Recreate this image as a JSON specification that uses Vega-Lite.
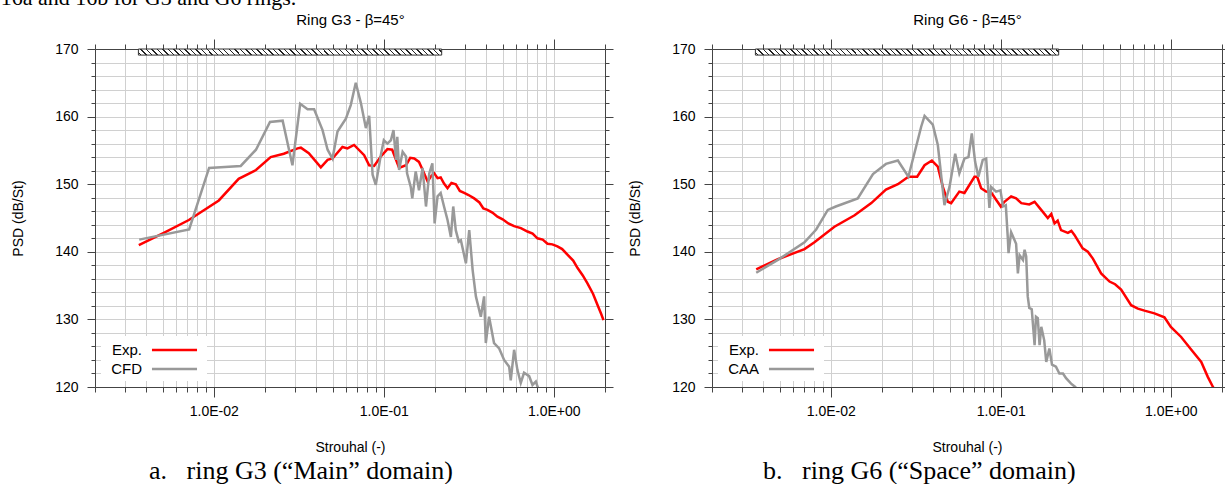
{
"$schema": "https://vega.github.io/schema/vega-lite/v6.json",
"autosize": {"type": "pad"},
"padding": {"left": 0, "top": -14, "right": 0, "bottom": 0},
"background": "white",
"title": {"text": "16a and 16b for G3 and G6 rings.", "anchor": "start", "font": "Liberation Serif", "fontSize": 22, "fontWeight": "normal", "color": "#000", "offset": 3, "dx": -11},
"spacing": 107,
"bounds": "flush",
"resolve": {"scale": {"color": "independent"}, "legend": {"color": "independent"}},
"hconcat": [
{
"width": 510, "height": 338,
"title": {"text": "a.\u00a0\u00a0\u00a0ring G3 (\u201cMain\u201d domain)", "orient": "bottom", "anchor": "start", "frame": "group", "dx": 54, "offset": 4, "font": "Liberation Serif", "fontSize": 26, "fontWeight": "normal", "color": "#000"},
"data": {"values": [
{"s":"Exp.","st":0.00362,"psd":141.0},{"s":"Exp.","st":0.00508,"psd":142.8},{"s":"Exp.","st":0.00713,"psd":144.7},{"s":"Exp.","st":0.0107,"psd":147.6},{"s":"Exp.","st":0.0140,"psd":150.8},{"s":"Exp.","st":0.0177,"psd":152.1},{"s":"Exp.","st":0.0216,"psd":154.0},{"s":"Exp.","st":0.0258,"psd":154.5},{"s":"Exp.","st":0.0311,"psd":155.3},{"s":"Exp.","st":0.0325,"psd":155.4},{"s":"Exp.","st":0.0362,"psd":154.6},{"s":"Exp.","st":0.0426,"psd":152.5},{"s":"Exp.","st":0.0467,"psd":153.6},{"s":"Exp.","st":0.0499,"psd":153.8},{"s":"Exp.","st":0.0571,"psd":155.5},{"s":"Exp.","st":0.0611,"psd":155.3},{"s":"Exp.","st":0.0668,"psd":155.8},{"s":"Exp.","st":0.0766,"psd":154.3},{"s":"Exp.","st":0.0820,"psd":152.8},{"s":"Exp.","st":0.0877,"psd":152.7},{"s":"Exp.","st":0.0960,"psd":154.1},{"s":"Exp.","st":0.105,"psd":155.2},{"s":"Exp.","st":0.112,"psd":155.1},{"s":"Exp.","st":0.123,"psd":152.4},{"s":"Exp.","st":0.135,"psd":152.8},{"s":"Exp.","st":0.143,"psd":153.9},{"s":"Exp.","st":0.151,"psd":153.8},{"s":"Exp.","st":0.161,"psd":153.3},{"s":"Exp.","st":0.170,"psd":152.0},{"s":"Exp.","st":0.181,"psd":150.4},{"s":"Exp.","st":0.190,"psd":151.2},{"s":"Exp.","st":0.198,"psd":151.6},{"s":"Exp.","st":0.207,"psd":150.9},{"s":"Exp.","st":0.216,"psd":151.0},{"s":"Exp.","st":0.226,"psd":150.1},{"s":"Exp.","st":0.237,"psd":149.4},{"s":"Exp.","st":0.250,"psd":150.2},{"s":"Exp.","st":0.265,"psd":150.0},{"s":"Exp.","st":0.280,"psd":149.0},{"s":"Exp.","st":0.297,"psd":148.7},{"s":"Exp.","st":0.315,"psd":148.4},{"s":"Exp.","st":0.340,"psd":147.9},{"s":"Exp.","st":0.365,"psd":147.3},{"s":"Exp.","st":0.385,"psd":146.4},{"s":"Exp.","st":0.407,"psd":146.2},{"s":"Exp.","st":0.435,"psd":145.8},{"s":"Exp.","st":0.466,"psd":145.2},{"s":"Exp.","st":0.50,"psd":144.8},{"s":"Exp.","st":0.54,"psd":144.2},{"s":"Exp.","st":0.584,"psd":143.8},{"s":"Exp.","st":0.64,"psd":143.5},{"s":"Exp.","st":0.700,"psd":143.0},{"s":"Exp.","st":0.75,"psd":142.7},{"s":"Exp.","st":0.801,"psd":142.0},{"s":"Exp.","st":0.86,"psd":141.8},{"s":"Exp.","st":0.918,"psd":141.2},{"s":"Exp.","st":0.98,"psd":141.1},{"s":"Exp.","st":1.05,"psd":140.8},{"s":"Exp.","st":1.12,"psd":140.4},{"s":"Exp.","st":1.21,"psd":139.5},{"s":"Exp.","st":1.30,"psd":138.7},{"s":"Exp.","st":1.38,"psd":137.6},{"s":"Exp.","st":1.48,"psd":136.5},{"s":"Exp.","st":1.58,"psd":135.3},{"s":"Exp.","st":1.70,"psd":133.8},{"s":"Exp.","st":1.81,"psd":132.1},{"s":"Exp.","st":1.90,"psd":130.8},{"s":"Exp.","st":1.96,"psd":129.9},
{"s":"CFD","st":0.00364,"psd":141.8},{"s":"CFD","st":0.00716,"psd":143.3},{"s":"CFD","st":0.00938,"psd":152.4},{"s":"CFD","st":0.0110,"psd":152.5},{"s":"CFD","st":0.0144,"psd":152.7},{"s":"CFD","st":0.0177,"psd":155.1},{"s":"CFD","st":0.0214,"psd":159.2},{"s":"CFD","st":0.0254,"psd":159.4},{"s":"CFD","st":0.0290,"psd":152.8},{"s":"CFD","st":0.0322,"psd":161.9},{"s":"CFD","st":0.0356,"psd":161.1},{"s":"CFD","st":0.0389,"psd":161.1},{"s":"CFD","st":0.0436,"psd":158.0},{"s":"CFD","st":0.0467,"psd":155.1},{"s":"CFD","st":0.0499,"psd":153.8},{"s":"CFD","st":0.0534,"psd":157.8},{"s":"CFD","st":0.0598,"psd":159.7},{"s":"CFD","st":0.0639,"psd":161.7},{"s":"CFD","st":0.0684,"psd":165.0},{"s":"CFD","st":0.0733,"psd":162.0},{"s":"CFD","st":0.0784,"psd":158.3},{"s":"CFD","st":0.0820,"psd":160.1},{"s":"CFD","st":0.0859,"psd":151.4},{"s":"CFD","st":0.0897,"psd":149.9},{"s":"CFD","st":0.0960,"psd":154.3},{"s":"CFD","st":0.100,"psd":156.5},{"s":"CFD","st":0.105,"psd":156.0},{"s":"CFD","st":0.110,"psd":156.5},{"s":"CFD","st":0.114,"psd":158.0},{"s":"CFD","st":0.118,"psd":153.6},{"s":"CFD","st":0.120,"psd":157.0},{"s":"CFD","st":0.123,"psd":152.1},{"s":"CFD","st":0.129,"psd":154.8},{"s":"CFD","st":0.135,"psd":154.1},{"s":"CFD","st":0.137,"psd":151.6},{"s":"CFD","st":0.144,"psd":149.6},{"s":"CFD","st":0.147,"psd":147.9},{"s":"CFD","st":0.154,"psd":151.9},{"s":"CFD","st":0.161,"psd":149.1},{"s":"CFD","st":0.169,"psd":152.4},{"s":"CFD","st":0.177,"psd":146.7},{"s":"CFD","st":0.185,"psd":151.6},{"s":"CFD","st":0.193,"psd":153.1},{"s":"CFD","st":0.199,"psd":144.2},{"s":"CFD","st":0.207,"psd":148.2},{"s":"CFD","st":0.216,"psd":148.7},{"s":"CFD","st":0.226,"psd":146.7},{"s":"CFD","st":0.237,"psd":144.7},{"s":"CFD","st":0.248,"psd":142.2},{"s":"CFD","st":0.256,"psd":146.7},{"s":"CFD","st":0.265,"psd":143.2},{"s":"CFD","st":0.276,"psd":141.5},{"s":"CFD","st":0.284,"psd":141.7},{"s":"CFD","st":0.304,"psd":138.3},{"s":"CFD","st":0.318,"psd":143.2},{"s":"CFD","st":0.333,"psd":137.3},{"s":"CFD","st":0.348,"psd":133.4},{"s":"CFD","st":0.372,"psd":130.4},{"s":"CFD","st":0.389,"psd":133.4},{"s":"CFD","st":0.398,"psd":126.5},{"s":"CFD","st":0.416,"psd":130.4},{"s":"CFD","st":0.445,"psd":126.5},{"s":"CFD","st":0.477,"psd":125.7},{"s":"CFD","st":0.510,"psd":124.0},{"s":"CFD","st":0.546,"psd":123.0},{"s":"CFD","st":0.558,"psd":121.0},{"s":"CFD","st":0.584,"psd":125.5},{"s":"CFD","st":0.611,"psd":122.5},{"s":"CFD","st":0.639,"psd":120.6},{"s":"CFD","st":0.668,"psd":122.1},{"s":"CFD","st":0.716,"psd":121.6},{"s":"CFD","st":0.749,"psd":120.3},{"s":"CFD","st":0.784,"psd":120.8},{"s":"CFD","st":0.816,"psd":119.5},{"s":"CFD","st":0.861,"psd":118.5}
]},
"layer": [
{"transform": [{"filter": "datum.s == 'Exp.'"}],
 "mark": {"type": "line", "strokeWidth": 2.5, "clip": true},
 "encoding": {
  "x": {"field": "st", "type": "quantitative", "scale": {"type": "log", "domain": [0.002, 2]},
   "axis": {"orient": "bottom", "values": [0.002,0.003,0.004,0.005,0.006,0.007,0.008,0.009,0.01,0.02,0.03,0.04,0.05,0.06,0.07,0.08,0.09,0.1,0.2,0.3,0.4,0.5,0.6,0.7,0.8,0.9,1,2],
    "labelExpr": "datum.value == 0.01 ? '1.0E-02' : datum.value == 0.1 ? '1.0E-01' : datum.value == 1 ? '1.0E+00' : ''",
    "labelOverlap": false, "labelFlush": false, "grid": true, "title": "Strouhal (-)", "labelPadding": 7, "titlePadding": 22,
    "tickSize": {"condition": {"test": "datum.value == 0.01 || datum.value == 0.1 || datum.value == 1", "value": 10}, "value": 5}}},
  "y": {"field": "psd", "type": "quantitative", "scale": {"domain": [120, 170], "nice": false, "zero": false},
   "axis": {"orient": "left", "values": [120,122,124,126,128,130,132,134,136,138,140,142,144,146,148,150,152,154,156,158,160,162,164,166,168,170],
    "labelExpr": "datum.value % 10 == 0 ? datum.label : ''", "labelOverlap": false, "labelFlush": false, "grid": true, "title": "PSD (dB/St)", "labelPadding": 9, "titlePadding": 29,
    "tickSize": {"condition": {"test": "datum.value % 10 == 0", "value": 8}, "value": 4}}},
  "color": {"field": "s", "type": "nominal", "scale": {"domain": ["Exp.", "CFD"], "range": ["#ff0000", "#999999"]},
   "legend": {"title": null, "encode": {"symbols": {"update": {"x": {"value": 69.5}, "fill": {"value": "transparent"}, "opacity": {"value": 1}, "strokeOpacity": {"value": 1}, "stroke": {"signal": "datum.value === 'Exp.' ? '#ff0000' : '#999999'"}}}, "labels": {"update": {"x": {"value": 37}, "align": {"value": "right"}}}}}}
 }},
{"transform": [{"filter": "datum.s == 'CFD'"}],
 "mark": {"type": "line", "strokeWidth": 2.5, "clip": true},
 "encoding": {
  "x": {"field": "st", "type": "quantitative", "scale": {"type": "log", "domain": [0.002, 2]}, "axis": null},
  "y": {"field": "psd", "type": "quantitative", "scale": {"domain": [120, 170], "nice": false, "zero": false}, "axis": null},
  "color": {"field": "s", "type": "nominal", "scale": {"domain": ["Exp.", "CFD"], "range": ["#ff0000", "#999999"]},
   "legend": {"title": null, "encode": {"symbols": {"update": {"x": {"value": 69.5}, "fill": {"value": "transparent"}, "opacity": {"value": 1}, "strokeOpacity": {"value": 1}, "stroke": {"signal": "datum.value === 'Exp.' ? '#ff0000' : '#999999'"}}}, "labels": {"update": {"x": {"value": 37}, "align": {"value": "right"}}}}}}
 }},
{"data": {"values": [{"a": 0.0036, "b": 0.219, "t": 170, "u": 169.1}]},
 "mark": {"type": "rect", "stroke": "#333333", "strokeWidth": 1, "fill": {"gradient": "linear", "x1": 0, "y1": 1, "x2": 1.0194, "y2": 0.9798, "stops": [
{"offset":0,"color":"#fff"},
{"offset":0.0060,"color":"#fff"},{"offset":0.0060,"color":"#222"},{"offset":0.0105,"color":"#222"},{"offset":0.0105,"color":"#fff"},
{"offset":0.0239,"color":"#fff"},{"offset":0.0239,"color":"#222"},{"offset":0.0284,"color":"#222"},{"offset":0.0284,"color":"#fff"},
{"offset":0.0417,"color":"#fff"},{"offset":0.0417,"color":"#222"},{"offset":0.0462,"color":"#222"},{"offset":0.0462,"color":"#fff"},
{"offset":0.0596,"color":"#fff"},{"offset":0.0596,"color":"#222"},{"offset":0.0641,"color":"#222"},{"offset":0.0641,"color":"#fff"},
{"offset":0.0774,"color":"#fff"},{"offset":0.0774,"color":"#222"},{"offset":0.0819,"color":"#222"},{"offset":0.0819,"color":"#fff"},
{"offset":0.0953,"color":"#fff"},{"offset":0.0953,"color":"#222"},{"offset":0.0998,"color":"#222"},{"offset":0.0998,"color":"#fff"},
{"offset":0.1131,"color":"#fff"},{"offset":0.1131,"color":"#222"},{"offset":0.1176,"color":"#222"},{"offset":0.1176,"color":"#fff"},
{"offset":0.1310,"color":"#fff"},{"offset":0.1310,"color":"#222"},{"offset":0.1355,"color":"#222"},{"offset":0.1355,"color":"#fff"},
{"offset":0.1489,"color":"#fff"},{"offset":0.1489,"color":"#222"},{"offset":0.1534,"color":"#222"},{"offset":0.1534,"color":"#fff"},
{"offset":0.1667,"color":"#fff"},{"offset":0.1667,"color":"#222"},{"offset":0.1712,"color":"#222"},{"offset":0.1712,"color":"#fff"},
{"offset":0.1846,"color":"#fff"},{"offset":0.1846,"color":"#222"},{"offset":0.1891,"color":"#222"},{"offset":0.1891,"color":"#fff"},
{"offset":0.2024,"color":"#fff"},{"offset":0.2024,"color":"#222"},{"offset":0.2069,"color":"#222"},{"offset":0.2069,"color":"#fff"},
{"offset":0.2203,"color":"#fff"},{"offset":0.2203,"color":"#222"},{"offset":0.2248,"color":"#222"},{"offset":0.2248,"color":"#fff"},
{"offset":0.2381,"color":"#fff"},{"offset":0.2381,"color":"#222"},{"offset":0.2426,"color":"#222"},{"offset":0.2426,"color":"#fff"},
{"offset":0.2560,"color":"#fff"},{"offset":0.2560,"color":"#222"},{"offset":0.2605,"color":"#222"},{"offset":0.2605,"color":"#fff"},
{"offset":0.2739,"color":"#fff"},{"offset":0.2739,"color":"#222"},{"offset":0.2784,"color":"#222"},{"offset":0.2784,"color":"#fff"},
{"offset":0.2917,"color":"#fff"},{"offset":0.2917,"color":"#222"},{"offset":0.2962,"color":"#222"},{"offset":0.2962,"color":"#fff"},
{"offset":0.3096,"color":"#fff"},{"offset":0.3096,"color":"#222"},{"offset":0.3141,"color":"#222"},{"offset":0.3141,"color":"#fff"},
{"offset":0.3274,"color":"#fff"},{"offset":0.3274,"color":"#222"},{"offset":0.3319,"color":"#222"},{"offset":0.3319,"color":"#fff"},
{"offset":0.3453,"color":"#fff"},{"offset":0.3453,"color":"#222"},{"offset":0.3498,"color":"#222"},{"offset":0.3498,"color":"#fff"},
{"offset":0.3631,"color":"#fff"},{"offset":0.3631,"color":"#222"},{"offset":0.3676,"color":"#222"},{"offset":0.3676,"color":"#fff"},
{"offset":0.3810,"color":"#fff"},{"offset":0.3810,"color":"#222"},{"offset":0.3855,"color":"#222"},{"offset":0.3855,"color":"#fff"},
{"offset":0.3989,"color":"#fff"},{"offset":0.3989,"color":"#222"},{"offset":0.4034,"color":"#222"},{"offset":0.4034,"color":"#fff"},
{"offset":0.4167,"color":"#fff"},{"offset":0.4167,"color":"#222"},{"offset":0.4212,"color":"#222"},{"offset":0.4212,"color":"#fff"},
{"offset":0.4346,"color":"#fff"},{"offset":0.4346,"color":"#222"},{"offset":0.4391,"color":"#222"},{"offset":0.4391,"color":"#fff"},
{"offset":0.4524,"color":"#fff"},{"offset":0.4524,"color":"#222"},{"offset":0.4569,"color":"#222"},{"offset":0.4569,"color":"#fff"},
{"offset":0.4703,"color":"#fff"},{"offset":0.4703,"color":"#222"},{"offset":0.4748,"color":"#222"},{"offset":0.4748,"color":"#fff"},
{"offset":0.4881,"color":"#fff"},{"offset":0.4881,"color":"#222"},{"offset":0.4926,"color":"#222"},{"offset":0.4926,"color":"#fff"},
{"offset":0.5060,"color":"#fff"},{"offset":0.5060,"color":"#222"},{"offset":0.5105,"color":"#222"},{"offset":0.5105,"color":"#fff"},
{"offset":0.5239,"color":"#fff"},{"offset":0.5239,"color":"#222"},{"offset":0.5284,"color":"#222"},{"offset":0.5284,"color":"#fff"},
{"offset":0.5417,"color":"#fff"},{"offset":0.5417,"color":"#222"},{"offset":0.5462,"color":"#222"},{"offset":0.5462,"color":"#fff"},
{"offset":0.5596,"color":"#fff"},{"offset":0.5596,"color":"#222"},{"offset":0.5641,"color":"#222"},{"offset":0.5641,"color":"#fff"},
{"offset":0.5774,"color":"#fff"},{"offset":0.5774,"color":"#222"},{"offset":0.5819,"color":"#222"},{"offset":0.5819,"color":"#fff"},
{"offset":0.5953,"color":"#fff"},{"offset":0.5953,"color":"#222"},{"offset":0.5998,"color":"#222"},{"offset":0.5998,"color":"#fff"},
{"offset":0.6131,"color":"#fff"},{"offset":0.6131,"color":"#222"},{"offset":0.6176,"color":"#222"},{"offset":0.6176,"color":"#fff"},
{"offset":0.6310,"color":"#fff"},{"offset":0.6310,"color":"#222"},{"offset":0.6355,"color":"#222"},{"offset":0.6355,"color":"#fff"},
{"offset":0.6489,"color":"#fff"},{"offset":0.6489,"color":"#222"},{"offset":0.6534,"color":"#222"},{"offset":0.6534,"color":"#fff"},
{"offset":0.6667,"color":"#fff"},{"offset":0.6667,"color":"#222"},{"offset":0.6712,"color":"#222"},{"offset":0.6712,"color":"#fff"},
{"offset":0.6846,"color":"#fff"},{"offset":0.6846,"color":"#222"},{"offset":0.6891,"color":"#222"},{"offset":0.6891,"color":"#fff"},
{"offset":0.7024,"color":"#fff"},{"offset":0.7024,"color":"#222"},{"offset":0.7069,"color":"#222"},{"offset":0.7069,"color":"#fff"},
{"offset":0.7203,"color":"#fff"},{"offset":0.7203,"color":"#222"},{"offset":0.7248,"color":"#222"},{"offset":0.7248,"color":"#fff"},
{"offset":0.7381,"color":"#fff"},{"offset":0.7381,"color":"#222"},{"offset":0.7426,"color":"#222"},{"offset":0.7426,"color":"#fff"},
{"offset":0.7560,"color":"#fff"},{"offset":0.7560,"color":"#222"},{"offset":0.7605,"color":"#222"},{"offset":0.7605,"color":"#fff"},
{"offset":0.7739,"color":"#fff"},{"offset":0.7739,"color":"#222"},{"offset":0.7784,"color":"#222"},{"offset":0.7784,"color":"#fff"},
{"offset":0.7917,"color":"#fff"},{"offset":0.7917,"color":"#222"},{"offset":0.7962,"color":"#222"},{"offset":0.7962,"color":"#fff"},
{"offset":0.8096,"color":"#fff"},{"offset":0.8096,"color":"#222"},{"offset":0.8141,"color":"#222"},{"offset":0.8141,"color":"#fff"},
{"offset":0.8274,"color":"#fff"},{"offset":0.8274,"color":"#222"},{"offset":0.8319,"color":"#222"},{"offset":0.8319,"color":"#fff"},
{"offset":0.8453,"color":"#fff"},{"offset":0.8453,"color":"#222"},{"offset":0.8498,"color":"#222"},{"offset":0.8498,"color":"#fff"},
{"offset":0.8631,"color":"#fff"},{"offset":0.8631,"color":"#222"},{"offset":0.8676,"color":"#222"},{"offset":0.8676,"color":"#fff"},
{"offset":0.8810,"color":"#fff"},{"offset":0.8810,"color":"#222"},{"offset":0.8855,"color":"#222"},{"offset":0.8855,"color":"#fff"},
{"offset":0.8989,"color":"#fff"},{"offset":0.8989,"color":"#222"},{"offset":0.9034,"color":"#222"},{"offset":0.9034,"color":"#fff"},
{"offset":0.9167,"color":"#fff"},{"offset":0.9167,"color":"#222"},{"offset":0.9212,"color":"#222"},{"offset":0.9212,"color":"#fff"},
{"offset":0.9346,"color":"#fff"},{"offset":0.9346,"color":"#222"},{"offset":0.9391,"color":"#222"},{"offset":0.9391,"color":"#fff"},
{"offset":0.9524,"color":"#fff"},{"offset":0.9524,"color":"#222"},{"offset":0.9569,"color":"#222"},{"offset":0.9569,"color":"#fff"},
{"offset":0.9703,"color":"#fff"},{"offset":0.9703,"color":"#222"},{"offset":0.9748,"color":"#222"},{"offset":0.9748,"color":"#fff"},
{"offset":0.9881,"color":"#fff"},{"offset":0.9881,"color":"#222"},{"offset":0.9926,"color":"#222"},{"offset":0.9926,"color":"#fff"},
{"offset":1,"color":"#fff"}]}},
 "encoding": {
  "x": {"field": "a", "type": "quantitative", "scale": {"type": "log", "domain": [0.002, 2]},
   "axis": {"orient": "top", "values": [0.002,0.003,0.004,0.005,0.006,0.007,0.008,0.009,0.01,0.02,0.03,0.04,0.05,0.06,0.07,0.08,0.09,0.1,0.2,0.3,0.4,0.5,0.6,0.7,0.8,0.9,1,2],
    "labels": false, "grid": false, "title": "Ring G3 - \u03b2=45\u00b0", "titleFontSize": 15, "titlePadding": 11,
    "tickSize": {"condition": {"test": "datum.value == 0.01 || datum.value == 0.1 || datum.value == 1", "value": 10}, "value": 5}}},
  "x2": {"field": "b"},
  "y": {"field": "t", "type": "quantitative", "scale": {"domain": [120, 170], "nice": false, "zero": false},
   "axis": {"orient": "right", "values": [120,122,124,126,128,130,132,134,136,138,140,142,144,146,148,150,152,154,156,158,160,162,164,166,168,170],
    "labels": false, "grid": false, "title": null,
    "tickSize": {"condition": {"test": "datum.value % 10 == 0", "value": 8}, "value": 4}}},
  "y2": {"field": "u"}
 }}
],
"resolve": {"axis": {"x": "independent", "y": "independent"}}
},
{
"width": 510, "height": 338,
"title": {"text": "b.\u00a0\u00a0\u00a0ring G6 (\u201cSpace\u201d domain)", "orient": "bottom", "anchor": "start", "frame": "group", "dx": 51, "offset": 4, "font": "Liberation Serif", "fontSize": 26, "fontWeight": "normal", "color": "#000"},
"data": {"values": [
{"s":"Exp.","st":0.00364,"psd":137.4},{"s":"Exp.","st":0.00488,"psd":138.9},{"s":"Exp.","st":0.00700,"psd":140.4},{"s":"Exp.","st":0.00801,"psd":141.4},{"s":"Exp.","st":0.0105,"psd":143.7},{"s":"Exp.","st":0.0138,"psd":145.4},{"s":"Exp.","st":0.0173,"psd":147.2},{"s":"Exp.","st":0.0211,"psd":149.2},{"s":"Exp.","st":0.0248,"psd":150.0},{"s":"Exp.","st":0.0286,"psd":151.1},{"s":"Exp.","st":0.0322,"psd":151.1},{"s":"Exp.","st":0.0356,"psd":152.8},{"s":"Exp.","st":0.0393,"psd":153.5},{"s":"Exp.","st":0.0426,"psd":152.6},{"s":"Exp.","st":0.0456,"psd":149.6},{"s":"Exp.","st":0.0488,"psd":147.4},{"s":"Exp.","st":0.0510,"psd":147.2},{"s":"Exp.","st":0.0570,"psd":148.9},{"s":"Exp.","st":0.0611,"psd":148.7},{"s":"Exp.","st":0.0700,"psd":151.1},{"s":"Exp.","st":0.0726,"psd":151.1},{"s":"Exp.","st":0.0766,"psd":149.4},{"s":"Exp.","st":0.0820,"psd":148.9},{"s":"Exp.","st":0.0877,"psd":148.8},{"s":"Exp.","st":0.0938,"psd":147.7},{"s":"Exp.","st":0.100,"psd":146.7},{"s":"Exp.","st":0.105,"psd":147.4},{"s":"Exp.","st":0.115,"psd":148.2},{"s":"Exp.","st":0.123,"psd":147.9},{"s":"Exp.","st":0.132,"psd":147.2},{"s":"Exp.","st":0.147,"psd":147.0},{"s":"Exp.","st":0.158,"psd":147.4},{"s":"Exp.","st":0.169,"psd":146.5},{"s":"Exp.","st":0.189,"psd":145.0},{"s":"Exp.","st":0.198,"psd":145.6},{"s":"Exp.","st":0.207,"psd":144.2},{"s":"Exp.","st":0.216,"psd":144.6},{"s":"Exp.","st":0.226,"psd":143.2},{"s":"Exp.","st":0.248,"psd":142.8},{"s":"Exp.","st":0.260,"psd":143.1},{"s":"Exp.","st":0.271,"psd":142.5},{"s":"Exp.","st":0.303,"psd":140.5},{"s":"Exp.","st":0.325,"psd":140.0},{"s":"Exp.","st":0.348,"psd":139.0},{"s":"Exp.","st":0.389,"psd":136.8},{"s":"Exp.","st":0.436,"psd":135.6},{"s":"Exp.","st":0.470,"psd":135.2},{"s":"Exp.","st":0.510,"psd":134.4},{"s":"Exp.","st":0.584,"psd":132.1},{"s":"Exp.","st":0.640,"psd":131.6},{"s":"Exp.","st":0.700,"psd":131.3},{"s":"Exp.","st":0.801,"psd":130.9},{"s":"Exp.","st":0.917,"psd":130.3},{"s":"Exp.","st":1.00,"psd":128.9},{"s":"Exp.","st":1.15,"psd":127.4},{"s":"Exp.","st":1.32,"psd":125.5},{"s":"Exp.","st":1.51,"psd":123.7},{"s":"Exp.","st":1.65,"psd":121.5},{"s":"Exp.","st":1.77,"psd":120.0},{"s":"Exp.","st":1.85,"psd":119.2},
{"s":"CAA","st":0.00364,"psd":136.9},{"s":"CAA","st":0.00488,"psd":138.8},{"s":"CAA","st":0.00700,"psd":141.4},{"s":"CAA","st":0.00820,"psd":143.3},{"s":"CAA","st":0.00960,"psd":146.2},{"s":"CAA","st":0.0107,"psd":146.7},{"s":"CAA","st":0.0144,"psd":147.9},{"s":"CAA","st":0.0177,"psd":151.5},{"s":"CAA","st":0.0211,"psd":153.0},{"s":"CAA","st":0.0248,"psd":153.5},{"s":"CAA","st":0.0286,"psd":151.1},{"s":"CAA","st":0.0340,"psd":158.5},{"s":"CAA","st":0.0356,"psd":160.1},{"s":"CAA","st":0.0398,"psd":158.8},{"s":"CAA","st":0.0426,"psd":155.8},{"s":"CAA","st":0.0466,"psd":146.9},{"s":"CAA","st":0.0499,"psd":149.6},{"s":"CAA","st":0.0539,"psd":154.5},{"s":"CAA","st":0.0570,"psd":151.6},{"s":"CAA","st":0.0611,"psd":153.8},{"s":"CAA","st":0.0645,"psd":154.0},{"s":"CAA","st":0.0675,"psd":157.5},{"s":"CAA","st":0.0706,"psd":153.3},{"s":"CAA","st":0.0738,"psd":151.1},{"s":"CAA","st":0.0783,"psd":153.6},{"s":"CAA","st":0.0820,"psd":153.8},{"s":"CAA","st":0.0857,"psd":146.5},{"s":"CAA","st":0.0877,"psd":149.6},{"s":"CAA","st":0.0938,"psd":148.9},{"s":"CAA","st":0.0995,"psd":149.1},{"s":"CAA","st":0.103,"psd":146.7},{"s":"CAA","st":0.107,"psd":146.9},{"s":"CAA","st":0.110,"psd":141.9},{"s":"CAA","st":0.111,"psd":139.8},{"s":"CAA","st":0.115,"psd":142.9},{"s":"CAA","st":0.123,"psd":141.2},{"s":"CAA","st":0.126,"psd":136.8},{"s":"CAA","st":0.129,"psd":139.5},{"s":"CAA","st":0.135,"psd":138.8},{"s":"CAA","st":0.138,"psd":140.3},{"s":"CAA","st":0.141,"psd":139.3},{"s":"CAA","st":0.144,"psd":133.4},{"s":"CAA","st":0.147,"psd":131.7},{"s":"CAA","st":0.152,"psd":131.5},{"s":"CAA","st":0.158,"psd":126.2},{"s":"CAA","st":0.161,"psd":130.4},{"s":"CAA","st":0.165,"psd":130.2},{"s":"CAA","st":0.169,"psd":126.2},{"s":"CAA","st":0.173,"psd":128.9},{"s":"CAA","st":0.180,"psd":126.9},{"s":"CAA","st":0.185,"psd":123.7},{"s":"CAA","st":0.193,"psd":125.7},{"s":"CAA","st":0.200,"psd":123.3},{"s":"CAA","st":0.211,"psd":123.0},{"s":"CAA","st":0.221,"psd":122.0},{"s":"CAA","st":0.232,"psd":122.0},{"s":"CAA","st":0.242,"psd":121.3},{"s":"CAA","st":0.259,"psd":120.5},{"s":"CAA","st":0.274,"psd":120.0},{"s":"CAA","st":0.289,"psd":119.3}
]},
"layer": [
{"transform": [{"filter": "datum.s == 'Exp.'"}],
 "mark": {"type": "line", "strokeWidth": 2.5, "clip": true},
 "encoding": {
  "x": {"field": "st", "type": "quantitative", "scale": {"type": "log", "domain": [0.002, 2]},
   "axis": {"orient": "bottom", "values": [0.002,0.003,0.004,0.005,0.006,0.007,0.008,0.009,0.01,0.02,0.03,0.04,0.05,0.06,0.07,0.08,0.09,0.1,0.2,0.3,0.4,0.5,0.6,0.7,0.8,0.9,1,2],
    "labelExpr": "datum.value == 0.01 ? '1.0E-02' : datum.value == 0.1 ? '1.0E-01' : datum.value == 1 ? '1.0E+00' : ''",
    "labelOverlap": false, "labelFlush": false, "grid": true, "title": "Strouhal (-)", "labelPadding": 7, "titlePadding": 22,
    "tickSize": {"condition": {"test": "datum.value == 0.01 || datum.value == 0.1 || datum.value == 1", "value": 10}, "value": 5}}},
  "y": {"field": "psd", "type": "quantitative", "scale": {"domain": [120, 170], "nice": false, "zero": false},
   "axis": {"orient": "left", "values": [120,122,124,126,128,130,132,134,136,138,140,142,144,146,148,150,152,154,156,158,160,162,164,166,168,170],
    "labelExpr": "datum.value % 10 == 0 ? datum.label : ''", "labelOverlap": false, "labelFlush": false, "grid": true, "title": "PSD (dB/St)", "labelPadding": 9, "titlePadding": 29,
    "tickSize": {"condition": {"test": "datum.value % 10 == 0", "value": 8}, "value": 4}}},
  "color": {"field": "s", "type": "nominal", "scale": {"domain": ["Exp.", "CAA"], "range": ["#ff0000", "#999999"]},
   "legend": {"title": null, "encode": {"symbols": {"update": {"x": {"value": 69.5}, "fill": {"value": "transparent"}, "opacity": {"value": 1}, "strokeOpacity": {"value": 1}, "stroke": {"signal": "datum.value === 'Exp.' ? '#ff0000' : '#999999'"}}}, "labels": {"update": {"x": {"value": 37}, "align": {"value": "right"}}}}}}
 }},
{"transform": [{"filter": "datum.s == 'CAA'"}],
 "mark": {"type": "line", "strokeWidth": 2.5, "clip": true},
 "encoding": {
  "x": {"field": "st", "type": "quantitative", "scale": {"type": "log", "domain": [0.002, 2]}, "axis": null},
  "y": {"field": "psd", "type": "quantitative", "scale": {"domain": [120, 170], "nice": false, "zero": false}, "axis": null},
  "color": {"field": "s", "type": "nominal", "scale": {"domain": ["Exp.", "CAA"], "range": ["#ff0000", "#999999"]},
   "legend": {"title": null, "encode": {"symbols": {"update": {"x": {"value": 69.5}, "fill": {"value": "transparent"}, "opacity": {"value": 1}, "strokeOpacity": {"value": 1}, "stroke": {"signal": "datum.value === 'Exp.' ? '#ff0000' : '#999999'"}}}, "labels": {"update": {"x": {"value": 37}, "align": {"value": "right"}}}}}}
 }},
{"data": {"values": [{"a": 0.0036, "b": 0.219, "t": 170, "u": 169.1}]},
 "mark": {"type": "rect", "stroke": "#333333", "strokeWidth": 1, "fill": {"gradient": "linear", "x1": 0, "y1": 1, "x2": 1.0194, "y2": 0.9798, "stops": [
{"offset":0,"color":"#fff"},
{"offset":0.0060,"color":"#fff"},{"offset":0.0060,"color":"#222"},{"offset":0.0105,"color":"#222"},{"offset":0.0105,"color":"#fff"},
{"offset":0.0239,"color":"#fff"},{"offset":0.0239,"color":"#222"},{"offset":0.0284,"color":"#222"},{"offset":0.0284,"color":"#fff"},
{"offset":0.0417,"color":"#fff"},{"offset":0.0417,"color":"#222"},{"offset":0.0462,"color":"#222"},{"offset":0.0462,"color":"#fff"},
{"offset":0.0596,"color":"#fff"},{"offset":0.0596,"color":"#222"},{"offset":0.0641,"color":"#222"},{"offset":0.0641,"color":"#fff"},
{"offset":0.0774,"color":"#fff"},{"offset":0.0774,"color":"#222"},{"offset":0.0819,"color":"#222"},{"offset":0.0819,"color":"#fff"},
{"offset":0.0953,"color":"#fff"},{"offset":0.0953,"color":"#222"},{"offset":0.0998,"color":"#222"},{"offset":0.0998,"color":"#fff"},
{"offset":0.1131,"color":"#fff"},{"offset":0.1131,"color":"#222"},{"offset":0.1176,"color":"#222"},{"offset":0.1176,"color":"#fff"},
{"offset":0.1310,"color":"#fff"},{"offset":0.1310,"color":"#222"},{"offset":0.1355,"color":"#222"},{"offset":0.1355,"color":"#fff"},
{"offset":0.1489,"color":"#fff"},{"offset":0.1489,"color":"#222"},{"offset":0.1534,"color":"#222"},{"offset":0.1534,"color":"#fff"},
{"offset":0.1667,"color":"#fff"},{"offset":0.1667,"color":"#222"},{"offset":0.1712,"color":"#222"},{"offset":0.1712,"color":"#fff"},
{"offset":0.1846,"color":"#fff"},{"offset":0.1846,"color":"#222"},{"offset":0.1891,"color":"#222"},{"offset":0.1891,"color":"#fff"},
{"offset":0.2024,"color":"#fff"},{"offset":0.2024,"color":"#222"},{"offset":0.2069,"color":"#222"},{"offset":0.2069,"color":"#fff"},
{"offset":0.2203,"color":"#fff"},{"offset":0.2203,"color":"#222"},{"offset":0.2248,"color":"#222"},{"offset":0.2248,"color":"#fff"},
{"offset":0.2381,"color":"#fff"},{"offset":0.2381,"color":"#222"},{"offset":0.2426,"color":"#222"},{"offset":0.2426,"color":"#fff"},
{"offset":0.2560,"color":"#fff"},{"offset":0.2560,"color":"#222"},{"offset":0.2605,"color":"#222"},{"offset":0.2605,"color":"#fff"},
{"offset":0.2739,"color":"#fff"},{"offset":0.2739,"color":"#222"},{"offset":0.2784,"color":"#222"},{"offset":0.2784,"color":"#fff"},
{"offset":0.2917,"color":"#fff"},{"offset":0.2917,"color":"#222"},{"offset":0.2962,"color":"#222"},{"offset":0.2962,"color":"#fff"},
{"offset":0.3096,"color":"#fff"},{"offset":0.3096,"color":"#222"},{"offset":0.3141,"color":"#222"},{"offset":0.3141,"color":"#fff"},
{"offset":0.3274,"color":"#fff"},{"offset":0.3274,"color":"#222"},{"offset":0.3319,"color":"#222"},{"offset":0.3319,"color":"#fff"},
{"offset":0.3453,"color":"#fff"},{"offset":0.3453,"color":"#222"},{"offset":0.3498,"color":"#222"},{"offset":0.3498,"color":"#fff"},
{"offset":0.3631,"color":"#fff"},{"offset":0.3631,"color":"#222"},{"offset":0.3676,"color":"#222"},{"offset":0.3676,"color":"#fff"},
{"offset":0.3810,"color":"#fff"},{"offset":0.3810,"color":"#222"},{"offset":0.3855,"color":"#222"},{"offset":0.3855,"color":"#fff"},
{"offset":0.3989,"color":"#fff"},{"offset":0.3989,"color":"#222"},{"offset":0.4034,"color":"#222"},{"offset":0.4034,"color":"#fff"},
{"offset":0.4167,"color":"#fff"},{"offset":0.4167,"color":"#222"},{"offset":0.4212,"color":"#222"},{"offset":0.4212,"color":"#fff"},
{"offset":0.4346,"color":"#fff"},{"offset":0.4346,"color":"#222"},{"offset":0.4391,"color":"#222"},{"offset":0.4391,"color":"#fff"},
{"offset":0.4524,"color":"#fff"},{"offset":0.4524,"color":"#222"},{"offset":0.4569,"color":"#222"},{"offset":0.4569,"color":"#fff"},
{"offset":0.4703,"color":"#fff"},{"offset":0.4703,"color":"#222"},{"offset":0.4748,"color":"#222"},{"offset":0.4748,"color":"#fff"},
{"offset":0.4881,"color":"#fff"},{"offset":0.4881,"color":"#222"},{"offset":0.4926,"color":"#222"},{"offset":0.4926,"color":"#fff"},
{"offset":0.5060,"color":"#fff"},{"offset":0.5060,"color":"#222"},{"offset":0.5105,"color":"#222"},{"offset":0.5105,"color":"#fff"},
{"offset":0.5239,"color":"#fff"},{"offset":0.5239,"color":"#222"},{"offset":0.5284,"color":"#222"},{"offset":0.5284,"color":"#fff"},
{"offset":0.5417,"color":"#fff"},{"offset":0.5417,"color":"#222"},{"offset":0.5462,"color":"#222"},{"offset":0.5462,"color":"#fff"},
{"offset":0.5596,"color":"#fff"},{"offset":0.5596,"color":"#222"},{"offset":0.5641,"color":"#222"},{"offset":0.5641,"color":"#fff"},
{"offset":0.5774,"color":"#fff"},{"offset":0.5774,"color":"#222"},{"offset":0.5819,"color":"#222"},{"offset":0.5819,"color":"#fff"},
{"offset":0.5953,"color":"#fff"},{"offset":0.5953,"color":"#222"},{"offset":0.5998,"color":"#222"},{"offset":0.5998,"color":"#fff"},
{"offset":0.6131,"color":"#fff"},{"offset":0.6131,"color":"#222"},{"offset":0.6176,"color":"#222"},{"offset":0.6176,"color":"#fff"},
{"offset":0.6310,"color":"#fff"},{"offset":0.6310,"color":"#222"},{"offset":0.6355,"color":"#222"},{"offset":0.6355,"color":"#fff"},
{"offset":0.6489,"color":"#fff"},{"offset":0.6489,"color":"#222"},{"offset":0.6534,"color":"#222"},{"offset":0.6534,"color":"#fff"},
{"offset":0.6667,"color":"#fff"},{"offset":0.6667,"color":"#222"},{"offset":0.6712,"color":"#222"},{"offset":0.6712,"color":"#fff"},
{"offset":0.6846,"color":"#fff"},{"offset":0.6846,"color":"#222"},{"offset":0.6891,"color":"#222"},{"offset":0.6891,"color":"#fff"},
{"offset":0.7024,"color":"#fff"},{"offset":0.7024,"color":"#222"},{"offset":0.7069,"color":"#222"},{"offset":0.7069,"color":"#fff"},
{"offset":0.7203,"color":"#fff"},{"offset":0.7203,"color":"#222"},{"offset":0.7248,"color":"#222"},{"offset":0.7248,"color":"#fff"},
{"offset":0.7381,"color":"#fff"},{"offset":0.7381,"color":"#222"},{"offset":0.7426,"color":"#222"},{"offset":0.7426,"color":"#fff"},
{"offset":0.7560,"color":"#fff"},{"offset":0.7560,"color":"#222"},{"offset":0.7605,"color":"#222"},{"offset":0.7605,"color":"#fff"},
{"offset":0.7739,"color":"#fff"},{"offset":0.7739,"color":"#222"},{"offset":0.7784,"color":"#222"},{"offset":0.7784,"color":"#fff"},
{"offset":0.7917,"color":"#fff"},{"offset":0.7917,"color":"#222"},{"offset":0.7962,"color":"#222"},{"offset":0.7962,"color":"#fff"},
{"offset":0.8096,"color":"#fff"},{"offset":0.8096,"color":"#222"},{"offset":0.8141,"color":"#222"},{"offset":0.8141,"color":"#fff"},
{"offset":0.8274,"color":"#fff"},{"offset":0.8274,"color":"#222"},{"offset":0.8319,"color":"#222"},{"offset":0.8319,"color":"#fff"},
{"offset":0.8453,"color":"#fff"},{"offset":0.8453,"color":"#222"},{"offset":0.8498,"color":"#222"},{"offset":0.8498,"color":"#fff"},
{"offset":0.8631,"color":"#fff"},{"offset":0.8631,"color":"#222"},{"offset":0.8676,"color":"#222"},{"offset":0.8676,"color":"#fff"},
{"offset":0.8810,"color":"#fff"},{"offset":0.8810,"color":"#222"},{"offset":0.8855,"color":"#222"},{"offset":0.8855,"color":"#fff"},
{"offset":0.8989,"color":"#fff"},{"offset":0.8989,"color":"#222"},{"offset":0.9034,"color":"#222"},{"offset":0.9034,"color":"#fff"},
{"offset":0.9167,"color":"#fff"},{"offset":0.9167,"color":"#222"},{"offset":0.9212,"color":"#222"},{"offset":0.9212,"color":"#fff"},
{"offset":0.9346,"color":"#fff"},{"offset":0.9346,"color":"#222"},{"offset":0.9391,"color":"#222"},{"offset":0.9391,"color":"#fff"},
{"offset":0.9524,"color":"#fff"},{"offset":0.9524,"color":"#222"},{"offset":0.9569,"color":"#222"},{"offset":0.9569,"color":"#fff"},
{"offset":0.9703,"color":"#fff"},{"offset":0.9703,"color":"#222"},{"offset":0.9748,"color":"#222"},{"offset":0.9748,"color":"#fff"},
{"offset":0.9881,"color":"#fff"},{"offset":0.9881,"color":"#222"},{"offset":0.9926,"color":"#222"},{"offset":0.9926,"color":"#fff"},
{"offset":1,"color":"#fff"}]}},
 "encoding": {
  "x": {"field": "a", "type": "quantitative", "scale": {"type": "log", "domain": [0.002, 2]},
   "axis": {"orient": "top", "values": [0.002,0.003,0.004,0.005,0.006,0.007,0.008,0.009,0.01,0.02,0.03,0.04,0.05,0.06,0.07,0.08,0.09,0.1,0.2,0.3,0.4,0.5,0.6,0.7,0.8,0.9,1,2],
    "labels": false, "grid": false, "title": "Ring G6 - \u03b2=45\u00b0", "titleFontSize": 15, "titlePadding": 11,
    "tickSize": {"condition": {"test": "datum.value == 0.01 || datum.value == 0.1 || datum.value == 1", "value": 10}, "value": 5}}},
  "x2": {"field": "b"},
  "y": {"field": "t", "type": "quantitative", "scale": {"domain": [120, 170], "nice": false, "zero": false},
   "axis": {"orient": "right", "values": [120,122,124,126,128,130,132,134,136,138,140,142,144,146,148,150,152,154,156,158,160,162,164,166,168,170],
    "labels": false, "grid": false, "title": null,
    "tickSize": {"condition": {"test": "datum.value % 10 == 0", "value": 8}, "value": 4}}},
  "y2": {"field": "u"}
 }}
],
"resolve": {"axis": {"x": "independent", "y": "independent"}}
}
],
"config": {
 "font": "Liberation Sans",
 "view": {"stroke": null},
 "axis": {"domainColor": "#444444", "tickColor": "#444444", "domainWidth": 1, "tickWidth": 1, "gridColor": "#d0d0d0", "gridWidth": 1, "labelColor": "#000000", "labelFontSize": 14, "titleColor": "#000000", "titleFontSize": 14, "titleFontWeight": "normal"},
 "legend": {"orient": "bottom-left", "offset": 6, "padding": 4, "fillColor": "#ffffff", "symbolType": "M-2.65,0L2.65,0", "symbolSize": 289, "symbolStrokeWidth": 2.5, "symbolOpacity": 1, "rowPadding": 1, "labelFontSize": 15, "labelColor": "#000000"}
}
}
